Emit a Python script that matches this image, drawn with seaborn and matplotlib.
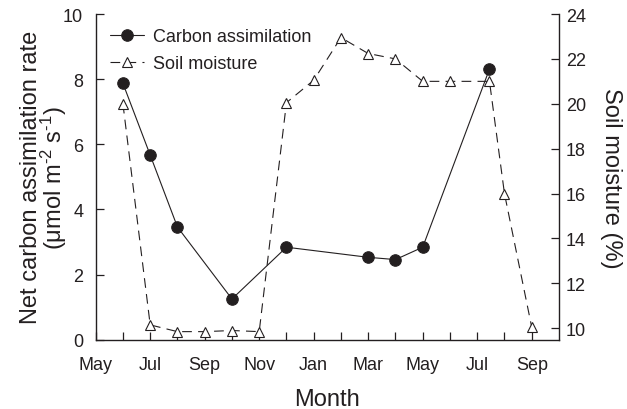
import matplotlib
matplotlib.use("Agg")
import matplotlib.pyplot as plt
import seaborn as sns
import pandas as pd

# ---- data ----
month_labels = ["May", "Jul", "Sep", "Nov", "Jan", "Mar", "May", "Jul", "Sep"]
# x positions in months since May (0 = May of first year)
carbon_month = [1, 2, 3, 5, 7, 10, 11, 12, 14.45]
carbon_rate = [7.87, 5.67, 3.46, 1.25, 2.84, 2.53, 2.46, 2.84, 8.31]
soil_month = [1, 2, 3, 4, 5, 6, 7, 8, 9, 10, 11, 12, 13, 14.45, 15, 16]
soil_moist = [20.0, 10.15, 9.85, 9.85, 9.9, 9.85, 20.05, 21.05, 22.95, 22.24,
              22.0, 21.0, 21.0, 21.0, 16.0, 10.05]

TXT = "#231f20"

sns.set_style("ticks")
plt.rcParams["font.family"] = ["Liberation Sans", "DejaVu Sans"]
plt.rcParams["mathtext.fontset"] = "custom"
plt.rcParams["mathtext.rm"] = "Liberation Sans"
plt.rcParams["mathtext.it"] = "Liberation Sans:italic"
plt.rcParams["lines.scale_dashes"] = False
plt.rcParams["text.color"] = TXT
plt.rcParams["axes.labelcolor"] = TXT

fig = plt.figure(figsize=(6.27, 4.10), dpi=100)
ax = fig.add_axes([0.1526, 0.169, 0.7389, 0.7944])
ax2 = ax.twinx()

c_df = pd.DataFrame({"m": carbon_month, "v": carbon_rate})
s_df = pd.DataFrame({"m": soil_month, "v": soil_moist})

sns.lineplot(data=c_df, x="m", y="v", ax=ax, color=TXT, marker="o",
             markersize=8.3, markeredgecolor=TXT, markerfacecolor=TXT,
             linewidth=0.8, errorbar=None, label="Carbon assimilation")
sns.lineplot(data=s_df, x="m", y="v", ax=ax2, color=TXT, marker="^",
             markersize=7.5, markeredgecolor=TXT, markerfacecolor="white",
             markeredgewidth=0.8, linewidth=0.8, errorbar=None,
             label="Soil moisture")
ax2.lines[0].set_dashes([7, 4.5])

ax.set_xlim(0, 17)
ax.set_ylim(0, 10)
ax2.set_ylim(9.49, 24)
ax.set_xticks(list(range(0, 17, 2)))
ax.set_xticklabels(month_labels)
ax.set_xticks(list(range(1, 17, 2)), minor=True)
ax.set_yticks(list(range(0, 11, 2)))
ax2.set_yticks(list(range(10, 25, 2)))

for s in ["top", "right"]:
    ax.spines[s].set_visible(False)
for s in ["top", "left", "bottom"]:
    ax2.spines[s].set_visible(False)
for a in (ax, ax2):
    for sp in a.spines.values():
        sp.set_linewidth(1.0)
        sp.set_color(TXT)

ax.tick_params(axis="both", which="both", direction="in", length=5.5,
               width=0.9, labelsize=13, colors=TXT)
ax.tick_params(axis="y", pad=9)
ax.tick_params(axis="x", pad=12)
ax2.tick_params(axis="y", direction="in", length=5.5, width=0.9,
                labelsize=13, pad=5, colors=TXT)

ax.set_xlabel("Month", fontsize=17, labelpad=10.5)
ax.set_ylabel("Net carbon assimilation rate\n(μmol m$^{\\text{-}2}$ s$^{\\text{-}1}$)",
              fontsize=17, labelpad=-4, linespacing=0.85)
ax2.set_ylabel("Soil moisture (%)", fontsize=17, rotation=270, labelpad=26)

h1, l1 = ax.get_legend_handles_labels()
h2, l2 = ax2.get_legend_handles_labels()
if ax.get_legend() is not None:
    ax.get_legend().remove()
ax2.legend(h1 + h2, l1 + l2, loc="upper left", bbox_to_anchor=(0.0, 1.0),
           frameon=False, fontsize=13, handlelength=1.9, handletextpad=0.5,
           labelspacing=0.57, borderaxespad=0.2, borderpad=0.58)

fig.savefig("out.png", dpi=100)
